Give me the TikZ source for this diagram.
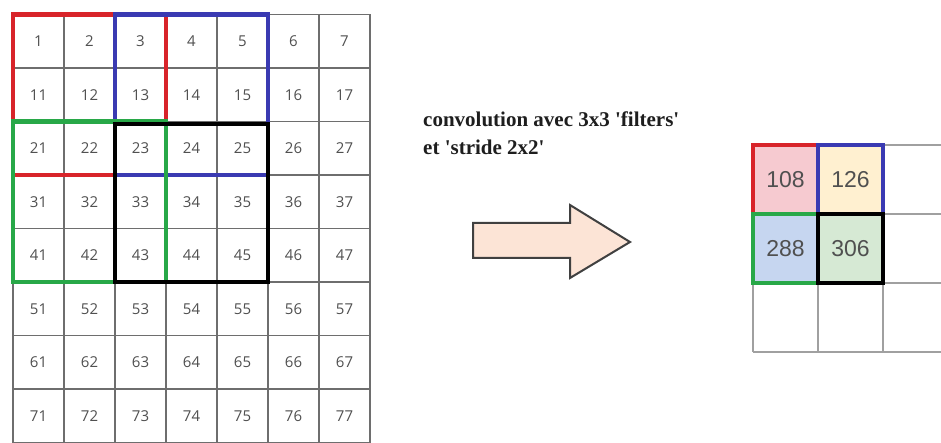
\documentclass[tikz,border=0pt]{standalone}
\usepackage{fontspec}
\setmainfont{Liberation Serif}[Ligatures=TeXOff]
\newfontfamily\gridfont{Open Sans}
\newfontfamily\outfont{Liberation Sans}
\definecolor{kred}{RGB}{216,36,42}
\definecolor{kblue}{RGB}{58,58,178}
\definecolor{kgreen}{RGB}{40,168,72}
\definecolor{kgrid}{RGB}{110,110,110}
\definecolor{kgridlight}{RGB}{160,160,160}
\definecolor{knum}{RGB}{80,80,80}
\definecolor{kpink}{RGB}{246,202,208}
\definecolor{kcream}{RGB}{255,240,208}
\definecolor{klblue}{RGB}{198,214,240}
\definecolor{klgreen}{RGB}{214,233,212}
\definecolor{kpeach}{RGB}{252,228,214}
\definecolor{karrow}{RGB}{64,64,64}
\definecolor{ktext}{RGB}{30,30,30}
\tikzset{
  gridline/.style={draw=kgrid,line width=1.8},
  gridlinelight/.style={draw=kgridlight,line width=1.6},
  win/.style={line width=4.5,line join=miter},
  num/.style={inner sep=0pt,text=knum,font=\gridfont\fontsize{15}{18}\selectfont},
  outnum/.style={inner sep=0pt,text=knum,font=\outfont\fontsize{23}{26}\selectfont},
  arrowstyle/.style={draw=karrow,fill=kpeach,line width=2,line join=miter},
  caption/.style={inner sep=0pt,text=ktext,align=left,font=\bfseries\fontsize{21}{28}\selectfont}
}
\begin{document}
\begin{tikzpicture}[x=1pt,y=-1pt]
\useasboundingbox (0,0) rectangle (941,443);
\clip (0,0) rectangle (941,443);
\fill[white] (0,0) rectangle (941,443);
% left grid
\foreach \i in {0,...,7} \draw[gridline] ({13+51*\i},14.5) -- ({13+51*\i},442.5);
\foreach \j in {0,...,8} \draw[gridline] (13,{14.5+53.5*\j}) -- (370,{14.5+53.5*\j});
\foreach \r in {1,...,8} {
  \foreach \c in {1,...,7} {
    \pgfmathtruncatemacro\v{(\r-1)*10+\c}
    \node[num] (a\r\c) at ({13+51*(\c-0.5)},{14.5+53.5*(\r-0.5)}) {\v};
  }
}
\draw[kred,win] (13,14.5) rectangle (166,175);
\draw[kblue,win] (115,14.5) rectangle (268,175);
\draw[kgreen,win] (13,121.5) rectangle (166,282);
\draw[black,win] (115,124) rectangle (268,282);
% caption
\node[caption,anchor=base west] (cap) at (423,155) {convolution avec 3x3 'filters'\\et 'stride 2x2'};
% arrow
\draw[arrowstyle] (473,223) -- (570,223) -- (570,205) -- (630,242) -- (570,278) -- (570,258) -- (473,258) -- cycle;
% right grid
\fill[kpink] (753,145) rectangle (818,214);
\fill[kcream] (818,145) rectangle (883,214);
\fill[klblue] (753,214) rectangle (818,283);
\fill[klgreen] (818,214) rectangle (883,283);
\foreach \x in {753,818,883,948} \draw[gridlinelight] (\x,145) -- (\x,352);
\foreach \y in {145,214,283,352} \draw[gridlinelight] (753,\y) -- (948,\y);
\draw[kred,win] (753,145) rectangle (818,214);
\draw[kblue,win] (818,145) rectangle (883,214);
\draw[kgreen,win] (753,214) rectangle (818,283);
\draw[black,win] (818,214) rectangle (883,283);
\node[outnum] (b11) at (785.5,179.5) {108};
\node[outnum] (b12) at (850.5,179.5) {126};
\node[outnum] (b21) at (785.5,248.5) {288};
\node[outnum] (b22) at (850.5,248.5) {306};
\end{tikzpicture}
\end{document}
